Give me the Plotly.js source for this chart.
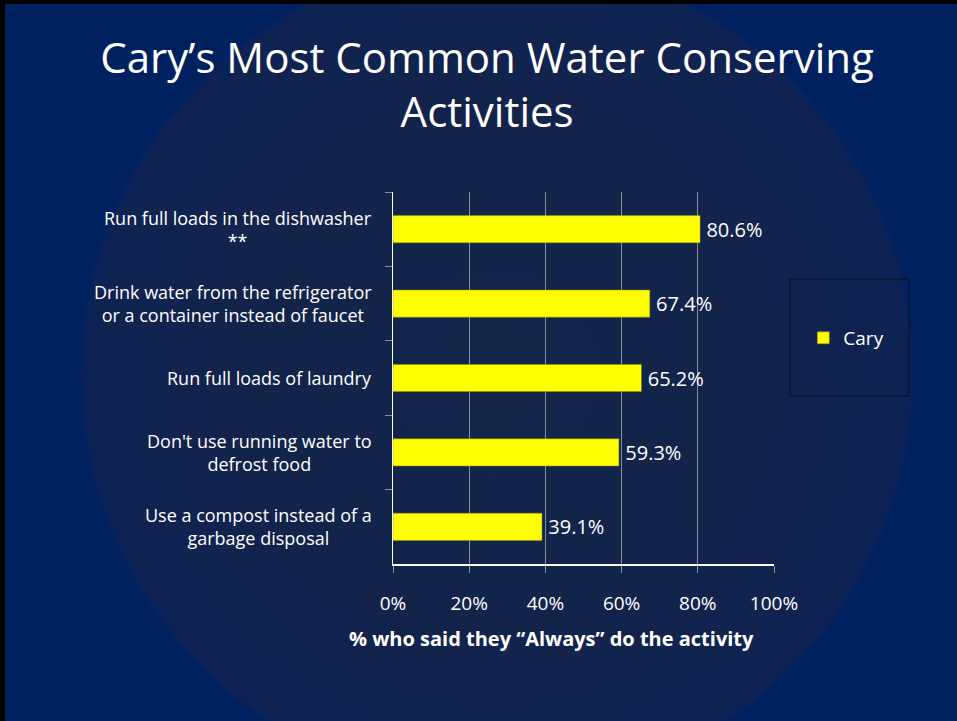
<!DOCTYPE html>
<html>
<head>
<meta charset="utf-8">
<script src="https://cdn.plot.ly/plotly-3.0.1.min.js"></script>
<style>
  html, body { margin:0; padding:0; width:957px; height:721px; overflow:hidden; }
  #wrap { position:relative; width:957px; height:721px;
    background: radial-gradient(circle 417px at 497px 374px, #14254a 0%, #13244b 60%, #0f2352 97%, #0c2257 99.5%, #002160 100%); }
  #chart { position:absolute; left:0; top:0; width:957px; height:721px; }
  #bt { position:absolute; left:0; top:0; width:957px; height:4px; background:#000; }
  #bl { position:absolute; left:0; top:0; width:5px; height:721px; background:#000; }
</style>
</head>
<body>
<div id="wrap"><div id="chart"></div><div id="bt"></div><div id="bl"></div></div>
<script>
const categories = [
  "Run full loads in the dishwasher<br>**",
  "Drink water from the refrigerator<br>or a container instead of faucet",
  "Run full loads of laundry",
  "Don't use running water to<br>defrost food",
  "Use a compost instead of a<br>garbage disposal"
];
const caryValues = [0.806, 0.674, 0.652, 0.593, 0.391];
const valueLabels = ["80.6%", "67.4%", "65.2%", "59.3%", "39.1%"];
const xTickVals = [0, 0.2, 0.4, 0.6, 0.8, 1.0];
const xTickText = ["0%", "20%", "40%", "60%", "80%", "100%"];
const seriesName = "Cary";
const chartTitle = "Cary’s Most Common Water Conserving<br>Activities";
const xTitle = "% who said they “Always” do the activity";

const FONT = "Open Sans, sans-serif";

const trace = {
  type: "bar",
  orientation: "h",
  name: seriesName,
  x: caryValues,
  y: categories,
  text: valueLabels,
  texttemplate: "\u2009%{text}",
  textposition: "outside",
  textfont: { color: "#ffffff", size: 20, family: FONT },
  cliponaxis: false,
  width: 0.365,
  marker: { color: "#ffff00", line: { color: "#8a8a2a", width: 0.5 } },
  hoverinfo: "skip"
};

const annotations = categories.map(c => ({
  xref: "paper", yref: "y", x: -0.05, y: c,
  xanchor: "right", yanchor: "middle", align: "center",
  text: c, showarrow: false,
  font: { color: "#ffffff", size: 18, family: FONT }
}));
annotations.push({
  xref: "paper", yref: "paper", x: 0.417, y: -0.2016,
  xanchor: "center", yanchor: "middle", text: "<b>" + xTitle + "</b>",
  showarrow: false, font: { color: "#ffffff", size: 20, family: FONT }
});

const layout = {
  width: 957, height: 721,
  margin: { l: 393, r: 183, t: 192, b: 157 },
  paper_bgcolor: "rgba(0,0,0,0)",
  plot_bgcolor: "rgba(0,0,0,0)",
  font: { family: FONT, color: "#ffffff" },
  title: {
    text: chartTitle,
    x: 0.509, xanchor: "center",
    y: 0.899, yanchor: "top", yref: "container",
    font: { size: 42, color: "#ffffff", family: FONT }
  },
  xaxis: {
    range: [0, 1],
    tickvals: xTickVals, ticktext: xTickText,
    showgrid: true, gridcolor: "#8a8f99", gridwidth: 1,
    zeroline: false,
    showline: true, linecolor: "#ffffff", linewidth: 1.5,
    ticks: "outside", ticklen: 7, tickcolor: "#8a8f99",
    ticklabelstandoff: 15,
    tickfont: { size: 19, color: "#ffffff", family: FONT },
    fixedrange: true
  },
  yaxis: {
    type: "category",
    autorange: "reversed",
    showticklabels: false,
    showgrid: false, zeroline: false,
    showline: true, linecolor: "#ffffff", linewidth: 1.5,
    ticks: "outside", tickson: "boundaries", ticklen: 7, tickcolor: "#8a8f99",
    fixedrange: true
  },
  showlegend: true,
  legend: {
    x: 1.077, y: 0.6075, xanchor: "left", yanchor: "middle",
    bgcolor: "rgba(0,0,0,0)", borderwidth: 0,
    font: { size: 19, color: "#ffffff", family: FONT }
  },
  shapes: [{
    type: "rect", xref: "paper", yref: "paper",
    x0: 1.042, x1: 1.354, y0: 0.4516, y1: 0.766,
    line: { color: "#0a0f1c", width: 1 }, fillcolor: "rgba(0,0,0,0)"
  }],
  annotations: annotations,
  bargap: 0.635
};

Plotly.newPlot("chart", [trace], layout, { displayModeBar: false, staticPlot: true });
</script>
</body>
</html>
